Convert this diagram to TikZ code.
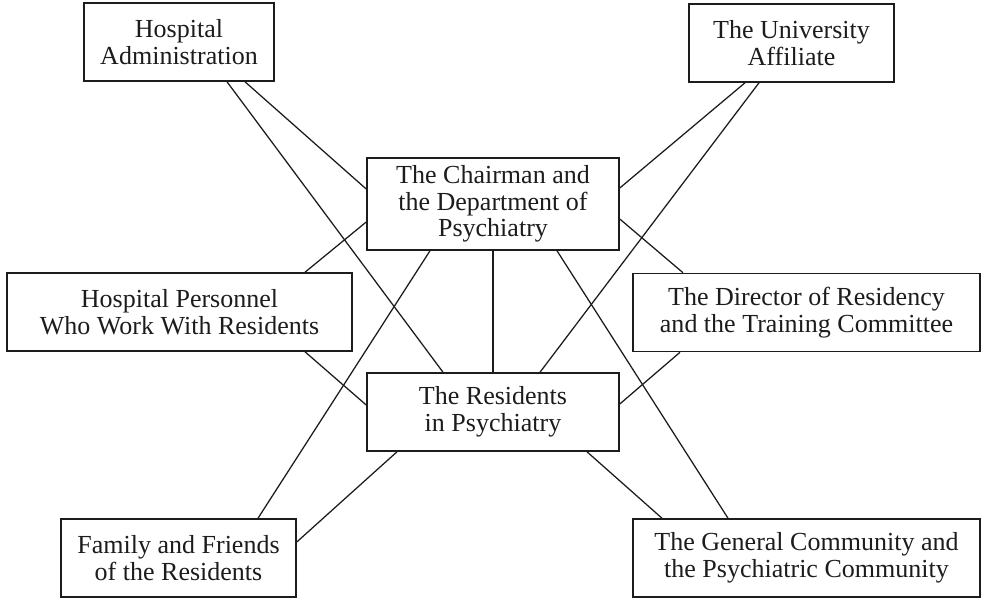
\documentclass[tikz,border=0pt]{standalone}
\usepackage{fontspec}
\setmainfont{Liberation Serif}
\usepackage{tikz}
\usetikzlibrary{positioning}
\definecolor{ink}{HTML}{1C1C1C}
\def\pxu{0.025cm}
\tikzset{
  box/.style={draw=ink, text=ink, line width=1.1pt, align=center, inner sep=0pt,
    minimum height=78*\pxu, font=\fontsize{18.5}{19}\selectfont,
    execute at begin node=\rule{0pt}{18pt}},
}

\begin{document}
\begin{tikzpicture}[x=0.025cm,y=-0.025cm,line width=0.9pt,draw=ink]
      \useasboundingbox (0,0) rectangle (981,600);

      \node[box, minimum width=190*\pxu] (hosp_admin) at (179,42) {Hospital\\Administration};
      \node[box, minimum width=205*\pxu] (univ_aff) at (791.5,43) {The University\\Affiliate};
      \node[box, minimum width=252*\pxu, minimum height=92*\pxu] (chairman) at (493,204) {The Chairman and\\the Department of\\Psychiatry};
      \node[box, minimum width=345*\pxu] (hosp_pers) at (179.5,312) {Hospital Personnel\\Who Work With Residents};
      \node[box, minimum width=347*\pxu] (director) at (806.5,312.5) {The Director of Residency\\and the Training Committee};
      \node[box, minimum width=252*\pxu] (residents) at (493,412) {The Residents\\in Psychiatry};
      \node[box, minimum width=235*\pxu] (family) at (178.5,558) {Family and Friends\\of the Residents};
      \node[box, minimum width=347*\pxu] (community) at (806.5,558) {The General Community and\\the Psychiatric Community};

      \path[draw=ink]
      ([xshift=48*\pxu]hosp_admin.south) edge ([xshift=-50*\pxu]residents.north)
      ([xshift=66*\pxu]hosp_admin.south) edge ([yshift=15*\pxu]chairman.west)
      ([xshift=-46.5*\pxu]univ_aff.south) edge ([yshift=16*\pxu]chairman.east)
      ([xshift=-32.5*\pxu]univ_aff.south) edge ([xshift=47*\pxu]residents.north)
      ([yshift=-18*\pxu]chairman.west) edge ([xshift=125.5*\pxu]hosp_pers.north)
      ([yshift=-15*\pxu]chairman.east) edge ([xshift=-123.5*\pxu]director.north)
      (chairman.south) edge (residents.north)
      ([xshift=-63*\pxu]chairman.south) edge ([xshift=79.5*\pxu]family.north)
      ([xshift=64*\pxu]chairman.south) edge ([xshift=-78.5*\pxu]community.north)
      ([xshift=125.5*\pxu]hosp_pers.south) edge ([yshift=7*\pxu]residents.west)
      ([xshift=-126.5*\pxu]director.south) edge ([yshift=8*\pxu]residents.east)
      ([xshift=-96*\pxu]residents.south) edge ([yshift=16*\pxu]family.east)
      ([xshift=94*\pxu]residents.south) edge ([xshift=-144.5*\pxu]community.north)
      ;
    \end{tikzpicture}
\end{document}
